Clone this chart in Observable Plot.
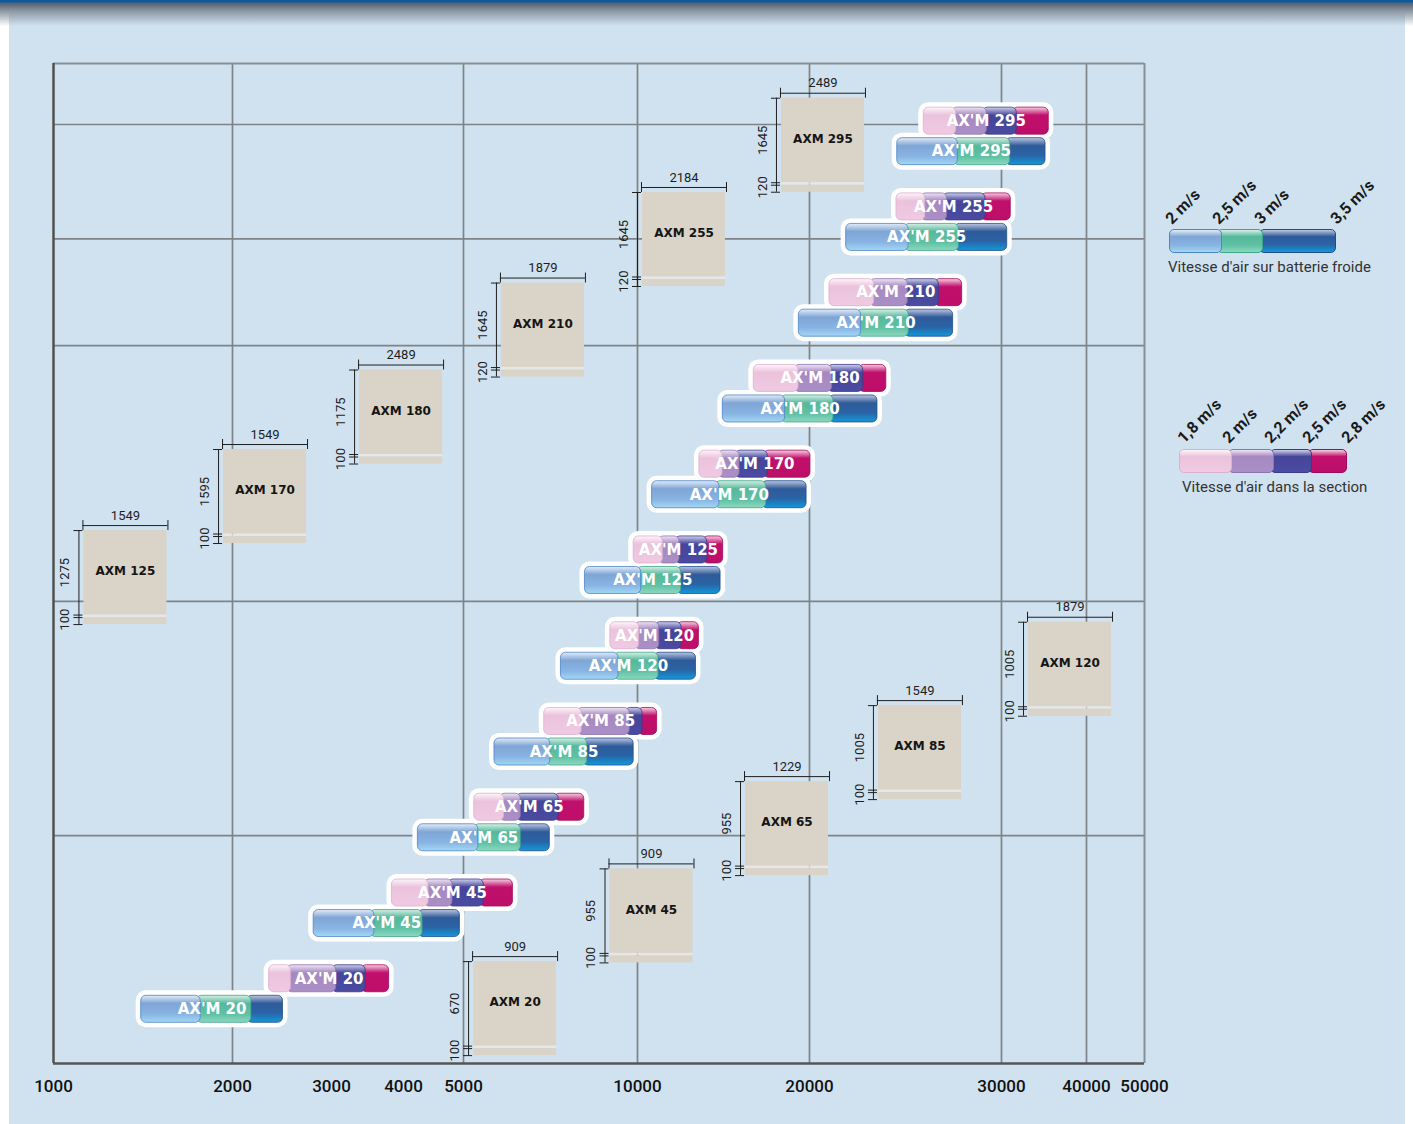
<!DOCTYPE html>
<html>
<head>
<meta charset="utf-8">
<script src="https://cdn.jsdelivr.net/npm/d3@7"></script>
<script src="https://cdn.jsdelivr.net/npm/@observablehq/plot@0.6"></script>
<style>
html, body { margin: 0; padding: 0; background: #ffffff; }
#page { position: relative; width: 1413px; height: 1124px; overflow: hidden; font-family: Roboto, "DejaVu Sans", sans-serif; }
#bg { position: absolute; left: 9px; top: 0; width: 1396px; height: 1124px; background: #d0e2f0; }
#band { position: absolute; left: 0; top: 0; width: 1413px; height: 26px;
  background: linear-gradient(to bottom, #0b5ba3 0px, #0b5ba3 2px, #55616d 3px, #8c98a4 11px, rgba(208,226,240,0) 26px); }
#chart { position: absolute; left: 0; top: 0; }
.lseg { position: absolute; box-sizing: border-box; border-radius: 5px; }
.lvel { position: absolute; font: bold 16px Roboto, sans-serif; line-height: 16px; color: #1a1a1a; white-space: nowrap; transform-origin: 0 100%; transform: rotate(-45deg); }
.lcap { position: absolute; font: 15px Roboto, sans-serif; line-height: 16px; color: #333; white-space: nowrap; }
</style>
</head>
<body>
<div id="page">
  <div id="bg"></div>
  <div id="band"></div>
  <div id="chart"></div>
</div>
<script>
// ---------------- data ----------------
const models = ["AX'M 20","AX'M 45","AX'M 65","AX'M 85","AX'M 120","AX'M 125","AX'M 170","AX'M 180","AX'M 210","AX'M 255","AX'M 295"];

// air flow (m³/h) at 1,8 / 2 / 2,2 / 2,5 / 2,8 m/s in the section
const sectionVelocities = ["1,8 m/s","2 m/s","2,2 m/s","2,5 m/s","2,8 m/s"];
const sectionFlows = [
  [2370, 2550, 3010, 3420, 3800],
  [3840, 4350, 4750, 5470, 6420],
  [5310, 6050, 6530, 7620, 8470],
  [7320, 8280, 9660, 10060, 11140],
  [9220, 9930, 11030, 12330, 13570],
  [9890, 11240, 12210, 13820, 14980],
  [13600, 14710, 15700, 17340, 20050],
  [16760, 19130, 20970, 22590, 24000],
  [21040, 23160, 24910, 26530, 27950],
  [24530, 25820, 26960, 28960, 31090],
  [25950, 27430, 29030, 31330, 35560]
];

// air flow (m³/h) at 2 / 2,5 / 3 / 3,5 m/s on the cold coil
const coilVelocities = ["2 m/s","2,5 m/s","3 m/s","3,5 m/s"];
const coilFlows = [
  [1490, 1800, 2150, 2510],
  [2820, 3540, 4250, 4940],
  [4240, 5310, 6530, 7480],
  [5890, 7380, 8440, 9890],
  [7800, 9340, 10990, 13400],
  [8490, 9990, 12310, 14830],
  [10850, 14530, 17250, 19830],
  [14960, 18350, 21040, 23540],
  [19380, 22480, 24960, 27480],
  [21910, 24950, 27570, 30670],
  [24570, 27520, 30550, 35180]
];

// AXM unit sketches
const boxNames   = ["AXM 20","AXM 45","AXM 65","AXM 85","AXM 120","AXM 125","AXM 170","AXM 180","AXM 210","AXM 255","AXM 295"];
const boxFlow    = [5290, 9210, 16280, 23590, 33180, 1170, 1950, 3390, 6090, 10290, 18370];
const boxRow     = [0.378, 1.459, 2.477, 3.363, 4.335, 5.404, 6.349, 7.276, 8.290, 9.346, 10.445];
const boxWidthMm  = [909, 909, 1229, 1549, 1879, 1549, 1549, 2489, 1879, 2184, 2489];
const boxHeightMm = [670, 955, 955, 1005, 1005, 1275, 1595, 1175, 1645, 1645, 1645];
const boxBaseMm   = [100, 100, 100, 100, 100, 100, 100, 100, 120, 120, 120];

const xTicks = [1000, 2000, 3000, 4000, 5000, 10000, 20000, 30000, 40000, 50000];
const gridFlows = [2000, 5000, 10000, 20000, 30000, 40000];
const gridRows = [1.847, 4.579, 7.561, 8.806, 10.139];

// ---------------- styles ----------------
const grad = {
  lb: [["0","#e3ecf8"],["0.3","#7fa5d5"],["0.7","#88b4e3"],["1","#a3d8f4"]],
  gr: [["0","#d6efe7"],["0.3","#56b89b"],["0.7","#60c1a4"],["1","#8cd8c0"]],
  db: [["0","#bcc6e0"],["0.3","#2f5b99"],["0.65","#2a63a5"],["1","#1199d8"]],
  pk: [["0","#fdf5fa"],["0.3","#ebc2dc"],["1","#efcae2"]],
  lv: [["0","#eee5f3"],["0.3","#a688c1"],["1","#aa90c6"]],
  ig: [["0","#d0d1eb"],["0.3","#45459a"],["1","#4a4ba1"]],
  mg: [["0","#f6d0e3"],["0.3","#c0106c"],["1","#bd0e6a"]]
};
const strokeCol = {lb:"#4b85c5", gr:"#3da686", db:"#1f4e8e", pk:"#ddb0cf", lv:"#8f72b1", ig:"#393a89", mg:"#a10a5b"};
const sectionKeys = ["pk","lv","ig","mg"];
const coilKeys = ["lb","gr","db"];

// gradient defs
const defsSvg = d3.select("body").append("svg").attr("width", 0).attr("height", 0).style("position", "absolute");
const defs = defsSvg.append("defs");
for (const [k, stops] of Object.entries(grad)) {
  const g = defs.append("linearGradient").attr("id", "g-" + k).attr("x1", 0).attr("y1", 0).attr("x2", 0).attr("y2", 1);
  stops.forEach(([o, c]) => g.append("stop").attr("offset", o).attr("stop-color", c));
}
const cssGrad = k => `linear-gradient(to bottom, ${grad[k].map(([o, c]) => `${c} ${o * 100}%`).join(", ")})`;

// ---------------- scales ----------------
const W = 1413, H = 1124;
const yDomain = [-0.81, 10.85];
const xRange = [53, 232, 331, 403, 463, 637, 809, 1001, 1086, 1144];
const xOpts = {type: "linear", domain: xTicks, range: xRange};
const xs = Plot.scale({x: xOpts});

const bars = [], segs = [];
models.forEach((name, i) => {
  [[sectionFlows[i], sectionKeys, i + 0.178], [coilFlows[i], coilKeys, i - 0.178]].forEach(([f, keys, row]) => {
    const a = f[0], b = f[f.length - 1];
    bars.push({name, row, x1: a, x2: b, mid: xs.invert((xs.apply(a) + xs.apply(b)) / 2)});
    keys.forEach((k, j) => segs.push({row, x1: f[j], x2: f[j + 1], key: k, j, last: j === keys.length - 1}));
  });
});
const segLast = segs.filter(d => d.last);
const segRest = segs.filter(d => !d.last).sort((a, b) => b.j - a.j);

const boxes = boxNames.map((name, i) => ({name, x: boxFlow[i], top: boxRow[i], w: boxWidthMm[i], h: boxHeightMm[i], b: boxBaseMm[i]}));
const bo = {x1: "x", x2: "x", y1: "top", y2: "top"};
const dim = {stroke: "#1e1e1e", strokeWidth: 1};
const dimText = {fontFamily: "Roboto", fontSize: 13, fill: "#1e1e1e"};
const boxFill = "#d9d3c8";
const segOpts = {x1: "x1", x2: "x2", y1: "row", y2: "row", insetTop: -13.5, insetBottom: -13.5, rx: 5,
  fill: d => `url(#g-${d.key})`, stroke: d => strokeCol[d.key], strokeWidth: 0.8};

const chart = Plot.plot({
  width: W, height: H,
  marginLeft: 53, marginRight: W - 1144, marginTop: 63, marginBottom: H - 1063,
  x: {...xOpts, axis: null},
  y: {domain: yDomain, axis: null},
  color: {type: "identity"},
  style: {background: "transparent", overflow: "visible", fontFamily: "Roboto"},
  marks: [
    Plot.ruleY(gridRows, {stroke: "#7f8387", strokeWidth: 1.7}),
    Plot.ruleX(gridFlows, {stroke: "#7f8387", strokeWidth: 1.7}),
    Plot.ruleY([yDomain[1]], {stroke: "#8a8f94", strokeWidth: 2}),
    Plot.ruleX([xTicks[xTicks.length - 1]], {stroke: "#8a8f94", strokeWidth: 2}),
    Plot.ruleX([xTicks[0]], {stroke: "#505050", strokeWidth: 2.5}),
    Plot.ruleY([yDomain[0]], {stroke: "#555555", strokeWidth: 2.5}),
    Plot.text(xTicks, {x: d => d, y: () => yDomain[0], text: d => String(d), dy: 23, fontFamily: "Roboto", fontSize: 17, fontWeight: 500, fill: "#111"}),

    // AXM sketches
    Plot.rect(boxes, {...bo, insetRight: -83, insetBottom: -84.5, fill: boxFill}),
    Plot.rect(boxes, {...bo, insetTop: 84.5, insetRight: -83, insetBottom: -87, fill: "#ece9e4", fillOpacity: 0.8}),
    Plot.rect(boxes, {...bo, insetTop: 87, insetRight: -83, insetBottom: -94, fill: boxFill}),
    Plot.text(boxes, {x: "x", y: "top", text: "name", dx: 41.5, dy: 41, fontFamily: "DejaVu Sans", fontWeight: "bold", fontSize: 12, fill: "#151515"}),
    Plot.text(boxes, {x: "x", y: "top", text: d => String(d.w), dx: 41.5, dy: -15, ...dimText}),
    Plot.ruleY(boxes, {x1: "x", x2: "x", y: "top", dy: -5, insetLeft: -1, insetRight: -84, ...dim}),
    Plot.ruleX(boxes, {x: "x", y1: "top", y2: "top", dx: -1, dy: -5, insetTop: -5, insetBottom: -5, ...dim}),
    Plot.ruleX(boxes, {x: "x", y1: "top", y2: "top", dx: 84, dy: -5, insetTop: -5, insetBottom: -5, ...dim}),
    Plot.ruleX(boxes, {x: "x", y1: "top", y2: "top", dx: -5, insetTop: 0, insetBottom: -94, ...dim}),
    ...[0, 84.5, 87, 94].map(o => Plot.ruleY(boxes, {x1: "x", x2: "x", y: "top", dy: o, insetLeft: -10, insetRight: 1, ...dim})),
    Plot.text(boxes, {x: "x", y: "top", text: d => String(d.h), rotate: -90, dx: -19, dy: 42, ...dimText}),
    Plot.text(boxes, {x: "x", y: "top", text: d => String(d.b), rotate: -90, dx: -19, dy: 89, ...dimText}),

    // AX'M bars
    Plot.rect(bars, {x1: "x1", x2: "x2", y1: "row", y2: "row", insetLeft: -5, insetRight: -5, insetTop: -18.5, insetBottom: -18.5, rx: 10, fill: "white"}),
    Plot.rect(segLast, segOpts),
    Plot.rect(segRest, {...segOpts, insetRight: -4}),
    Plot.text(bars, {x: "mid", y: "row", text: "name", fill: "white", fontFamily: "DejaVu Sans", fontWeight: "bold", fontSize: 15})
  ]
});
document.getElementById("chart").appendChild(chart);

// ---------------- legends ----------------
function addLegend({top, h, segments, labels, labelX, labelBase, caption, capLeft, capTop}) {
  const root = d3.select("#page");
  segments.slice().reverse().forEach(([l, r, k], idx) => {
    const isLast = idx === 0;
    root.append("div").attr("class", "lseg")
      .style("left", l + "px").style("top", top + "px")
      .style("width", (r - l + (isLast ? 0 : 4)) + "px").style("height", h + "px")
      .style("background", cssGrad(k)).style("border", `1px solid ${strokeCol[k]}`);
  });
  labels.forEach((t, i) => {
    root.append("div").attr("class", "lvel").text(t)
      .style("left", labelX[i] + "px").style("top", (labelBase + 3 - 16) + "px");
  });
  root.append("div").attr("class", "lcap").text(caption).style("left", capLeft + "px").style("top", capTop + "px");
}
addLegend({
  top: 229, h: 24,
  segments: [[1169, 1218, "lb"], [1217, 1259, "gr"], [1259, 1336, "db"]],
  labels: coilVelocities, labelX: [1174, 1221, 1263, 1339], labelBase: 224,
  caption: "Vitesse d'air sur batterie froide", capLeft: 1168, capTop: 259
});
addLegend({
  top: 449, h: 24,
  segments: [[1179, 1228, "pk"], [1228, 1270, "lv"], [1270, 1308, "ig"], [1308, 1347, "mg"]],
  labels: sectionVelocities, labelX: [1186, 1231, 1273, 1311, 1350], labelBase: 443,
  caption: "Vitesse d'air dans la section", capLeft: 1182, capTop: 479
});
</script>
</body>
</html>
